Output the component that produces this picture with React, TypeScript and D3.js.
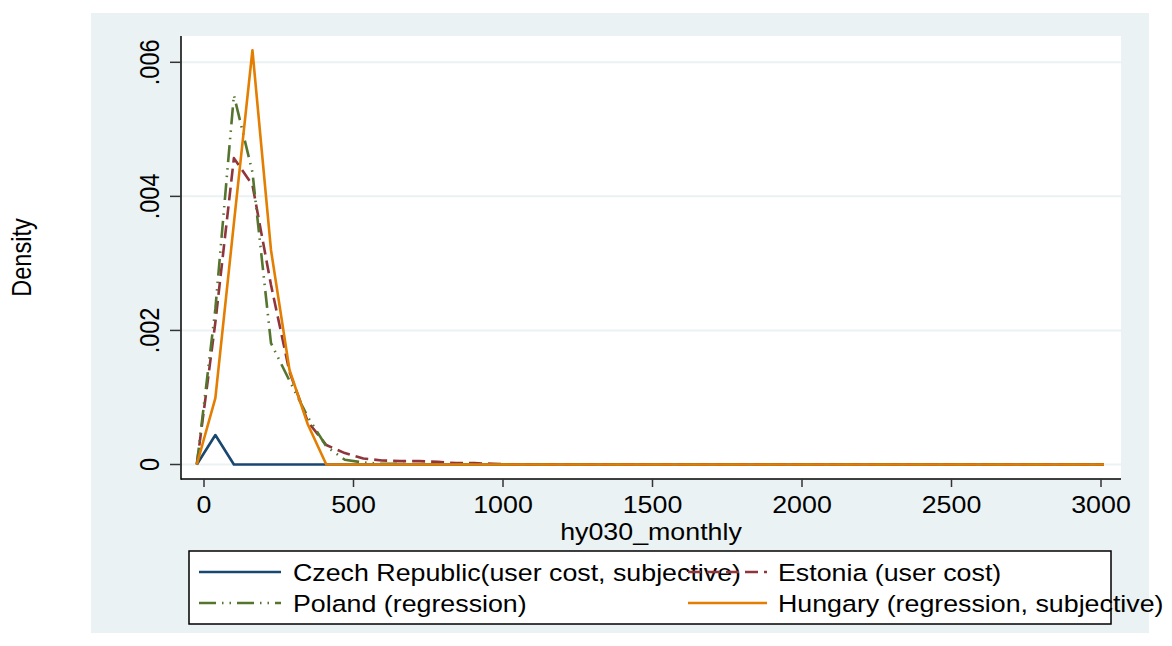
import React from "react";
import * as d3 from "d3";

// kdensity evaluation grid (hy030_monthly)
const xGrid = [
  -24, 38, 100, 162, 224, 286, 347, 409, 471, 533, 595, 657, 719, 781, 843, 905, 967, 1029, 1090, 1152,
  1214, 1276, 1338, 1400, 1462, 1524, 1586, 1648, 1710, 1772, 1833, 1895, 1957, 2019, 2081, 2143, 2205,
  2267, 2329, 2391, 2453, 2515, 2576, 2638, 2700, 2762, 2824, 2886, 2948, 3010,
];

const czech = [
  0, 0.00044, 0, 0, 0, 0, 0, 0, 0, 0, 0, 0, 0, 0, 0, 0, 0, 0, 0, 0, 0, 0, 0, 0, 0, 0, 0, 0, 0, 0, 0, 0, 0,
  0, 0, 0, 0, 0, 0, 0, 0, 0, 0, 0, 0, 0, 0, 0, 0, 0,
];
const estonia = [
  0, 0.00212, 0.00457, 0.00417, 0.00268, 0.00138, 0.00064, 0.00029, 0.00017, 0.00009, 0.00006, 0.00005,
  0.00005, 0.00004, 0.00002, 0.00002, 0.00001, 0, 0, 0, 0, 0, 0, 0, 0, 0, 0, 0, 0, 0, 0, 0, 0, 0, 0, 0, 0,
  0, 0, 0, 0, 0, 0, 0, 0, 0, 0, 0, 0, 0,
];
const poland = [
  0, 0.00232, 0.00551, 0.00436, 0.00181, 0.00125, 0.00071, 0.00027, 0.00007, 0.00003, 0.00001, 0.00001, 0,
  0, 0, 0, 0, 0, 0, 0, 0, 0, 0, 0, 0, 0, 0, 0, 0, 0, 0, 0, 0, 0, 0, 0, 0, 0, 0, 0, 0, 0, 0, 0, 0, 0, 0, 0,
  0, 0,
];
const hungary = [
  0, 0.00099, 0.0036, 0.00618, 0.0032, 0.00141, 0.0006, 0, 0, 0, 0, 0, 0, 0, 0, 0, 0, 0, 0, 0, 0, 0, 0, 0,
  0, 0, 0, 0, 0, 0, 0, 0, 0, 0, 0, 0, 0, 0, 0, 0, 0, 0, 0, 0, 0, 0, 0, 0, 0, 0,
];

const seriesNames = [
  "Czech Republic(user cost, subjective)",
  "Estonia (user cost)",
  "Poland (regression)",
  "Hungary (regression, subjective)",
];

const xTicks = [0, 500, 1000, 1500, 2000, 2500, 3000];
const yTicks = [0, 0.002, 0.004, 0.006];
const yTickLabels = ["0", ".002", ".004", ".006"];

const colors = ["#1A476F", "#90353B", "#55752F", "#E37E00"];
const dashes = ["none", "13 6", "17 6 1.5 6 1.5 6", "none"];

const FONT = "'Liberation Sans', Arial, Helvetica, sans-serif";
const FS = 23.5;
const SX = 1.14; // horizontal stretch of the exported text

const W = 1172;
const H = 646;
const plot = { left: 181, right: 1121, top: 36, bottom: 479 };

const App: React.FC = () => {
  const x = d3.scaleLinear().domain([0, 3000]).range([204, 1101]);
  const y = d3.scaleLinear().domain([0, 0.006]).range([464.5, 62.3]);

  const series = [czech, estonia, poland, hungary];
  const line = d3
    .line<number>()
    .x((_, i) => x(xGrid[i]))
    .y((d) => y(d));

  const legendRows = [
    { col: 0, row: 0 },
    { col: 1, row: 0 },
    { col: 0, row: 1 },
    { col: 1, row: 1 },
  ];
  const legendCols = [{ x1: 199, x2: 281, tx: 293 }, { x1: 688, x2: 767, tx: 778 }];
  const legendRowY = [572, 603];

  const hText = (tx: number, ty: number, s: string, anchor = "middle") => (
    <text
      transform={`translate(${tx},${ty}) scale(${SX},1)`}
      textAnchor={anchor}
      fontFamily={FONT}
      fontSize={FS}
      fill="#000"
    >
      {s}
    </text>
  );

  return (
    <svg width={W} height={H} style={{ position: "absolute", left: 0, top: 0, background: "#fff" }}>
      <rect x={91} y={13} width={1149 - 91} height={633 - 13} fill="#EAF2F3" />
      <rect
        x={plot.left}
        y={plot.top}
        width={plot.right - plot.left}
        height={plot.bottom - plot.top}
        fill="#fff"
      />

      {/* grid */}
      {yTicks.map((t) => (
        <line
          key={`g${t}`}
          x1={plot.left}
          x2={plot.right}
          y1={y(t)}
          y2={y(t)}
          stroke="#EAF2F3"
          strokeWidth={2}
        />
      ))}

      {/* series */}
      {series.map((s, i) => (
        <path
          key={seriesNames[i]}
          d={line(s) || ""}
          fill="none"
          stroke={colors[i]}
          strokeWidth={2.6}
          strokeDasharray={dashes[i]}
          strokeLinejoin="round"
        />
      ))}

      {/* axes */}
      <line x1={plot.left} x2={plot.left} y1={plot.top} y2={plot.bottom + 0.75} stroke="#000" strokeWidth={1.5} />
      <line x1={plot.left} x2={plot.right} y1={plot.bottom} y2={plot.bottom} stroke="#000" strokeWidth={1.5} />

      {yTicks.map((t, i) => (
        <g key={`yt${t}`}>
          <line x1={170} x2={plot.left} y1={y(t)} y2={y(t)} stroke="#333" strokeWidth={1.5} />
          <text
            transform={`translate(159,${y(t)}) scale(${SX},1) rotate(-90)`}
            textAnchor="middle"
            fontFamily={FONT}
            fontSize={FS}
            fill="#000"
          >
            {yTickLabels[i]}
          </text>
        </g>
      ))}

      {xTicks.map((t) => (
        <g key={`xt${t}`}>
          <line x1={x(t)} x2={x(t)} y1={plot.bottom} y2={487} stroke="#333" strokeWidth={1.5} />
          {hText(x(t), 513, String(t))}
        </g>
      ))}

      {hText((plot.left + plot.right) / 2, 540, "hy030_monthly")}
      <text
        transform={`translate(31,${(plot.top + plot.bottom) / 2}) scale(${SX},1) rotate(-90)`}
        textAnchor="middle"
        fontFamily={FONT}
        fontSize={FS}
        fill="#000"
      >
        Density
      </text>

      {/* legend */}
      <rect x={189} y={551} width={1111 - 189} height={624 - 551} fill="#fff" stroke="#000" strokeWidth={1.5} />
      {seriesNames.map((name, i) => {
        const c = legendCols[legendRows[i].col];
        const ly = legendRowY[legendRows[i].row];
        return (
          <g key={`lg${name}`}>
            <line
              x1={c.x1}
              x2={c.x2}
              y1={ly}
              y2={ly}
              stroke={colors[i]}
              strokeWidth={2.6}
              strokeDasharray={dashes[i]}
            />
            {hText(c.tx, ly + 8.5, name, "start")}
          </g>
        );
      })}
    </svg>
  );
};

export default App;
